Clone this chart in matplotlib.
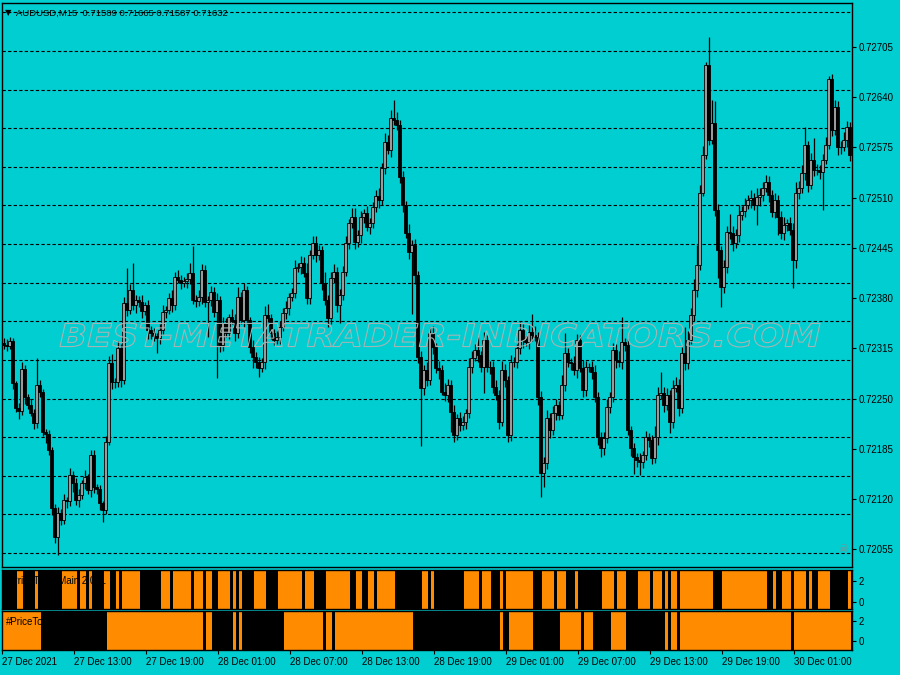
import numpy as np
import matplotlib
matplotlib.use('Agg')
import matplotlib.pyplot as plt
import matplotlib.transforms as mtransforms
from matplotlib.textpath import TextPath
from matplotlib.patches import PathPatch
from matplotlib.font_manager import FontProperties

BG = '#00CED1'
BULL = '#9a9a9a'
ORANGE = '#FF8C00'
FONT = ['Liberation Sans', 'DejaVu Sans']

symbol = 'AUDUSD,M15'
header_ohlc = '0.71589 0.71665 0.71587 0.71632'
first_open = 0.72322

# M15 closes
closes = [
    0.72319, 0.72318, 0.72325, 0.72270, 0.72238, 0.72234, 0.72288, 0.72252, 0.72242, 0.72231,
    0.72218, 0.72268, 0.72259, 0.72207, 0.72204, 0.72183, 0.72108, 0.72071, 0.72102, 0.72093,
    0.72119, 0.72117, 0.72151, 0.72141, 0.72119, 0.72125, 0.72141, 0.72148, 0.72132, 0.72177,
    0.72135, 0.72133, 0.72115, 0.72106, 0.72194, 0.72296, 0.72271, 0.72271, 0.72315, 0.72274,
    0.72374, 0.72365, 0.72391, 0.72371, 0.72378, 0.72375, 0.72363, 0.72371, 0.72339, 0.72335,
    0.72331, 0.72328, 0.72339, 0.72362, 0.72365, 0.72380, 0.72371, 0.72407, 0.72404, 0.72400,
    0.72402, 0.72405, 0.72413, 0.72378, 0.72376, 0.72382, 0.72417, 0.72375, 0.72378, 0.72388,
    0.72362,
    0.72378, 0.72319, 0.72348, 0.72335, 0.72356, 0.72352, 0.72335, 0.72382, 0.72352, 0.72391,
    0.72352, 0.72317, 0.72304, 0.72297, 0.72290, 0.72297, 0.72358, 0.72354, 0.72335, 0.72326,
    0.72330, 0.72343, 0.72361, 0.72367, 0.72382, 0.72387, 0.72419, 0.72420, 0.72426, 0.72413,
    0.72380, 0.72436, 0.72451, 0.72436, 0.72442, 0.72400, 0.72378, 0.72354, 0.72406, 0.72414,
    0.72371, 0.72384, 0.72414, 0.72451, 0.72477, 0.72485, 0.72453, 0.72462, 0.72485, 0.72490,
    0.72472, 0.72477, 0.72498, 0.72512, 0.72507, 0.72549, 0.72582, 0.72572, 0.72613, 0.72611,
    0.72604, 0.72537, 0.72501, 0.72464, 0.72440, 0.72449, 0.72410, 0.72304, 0.72264, 0.72287,
    0.72274, 0.72335, 0.72317, 0.72290, 0.72287, 0.72259, 0.72255, 0.72268, 0.72233, 0.72203,
    0.72225, 0.72216, 0.72220, 0.72231, 0.72291, 0.72303, 0.72313, 0.72306, 0.72291, 0.72326,
    0.72291, 0.72291, 0.72265, 0.72255, 0.72220, 0.72287, 0.72274, 0.72203, 0.72297, 0.72297,
    0.72315, 0.72339, 0.72326, 0.72323, 0.72336, 0.72332, 0.72330, 0.72252, 0.72154, 0.72167,
    0.72225, 0.72209, 0.72231, 0.72242, 0.72229, 0.72268, 0.72309, 0.72297, 0.72296, 0.72287,
    0.72326, 0.72290, 0.72261, 0.72291, 0.72291, 0.72284, 0.72252, 0.72200, 0.72186, 0.72199,
    0.72239, 0.72252, 0.72313, 0.72300, 0.72297, 0.72323, 0.72319, 0.72209, 0.72186, 0.72174,
    0.72170, 0.72168, 0.72177, 0.72200, 0.72196, 0.72173, 0.72200, 0.72255, 0.72257, 0.72242,
    0.72255, 0.72220, 0.72264, 0.72268, 0.72238, 0.72309, 0.72296, 0.72326, 0.72358, 0.72391,
    0.72423, 0.72516, 0.72565, 0.72682, 0.72585, 0.72607, 0.72494, 0.72442, 0.72395, 0.72420,
    0.72466, 0.72464, 0.72451, 0.72462, 0.72488, 0.72493, 0.72501, 0.72507, 0.72510, 0.72501,
    0.72511, 0.72514, 0.72523, 0.72530, 0.72514, 0.72492, 0.72507, 0.72485, 0.72464, 0.72475,
    0.72477, 0.72468, 0.72429, 0.72516, 0.72523, 0.72542, 0.72578, 0.72527, 0.72559, 0.72546,
    0.72546, 0.72543, 0.72559, 0.72578, 0.72664, 0.72598, 0.72628, 0.72575, 0.72576, 0.72585,
    0.72602, 0.72565,
]

# wick lengths beyond the body, in points (0.00001)
upper_wick = [
    6, 8, 5, 4, 3, 6, 9, 5, 4, 7, 5, 35, 6, 4, 3, 5, 4, 6, 8, 5,
    7, 4, 9, 5, 6, 8, 4, 10, 5, 7, 6, 4, 5, 3, 8, 9, 12, 6, 10, 5,
    8, 45, 7, 35, 6, 5, 9, 4, 7, 5, 6, 4, 8, 9, 5, 6, 11, 7, 10, 6,
    5, 8, 12, 34, 6, 9, 7, 6, 5, 8, 6, 9, 5, 8, 6, 4, 10, 7, 12, 6,
    8, 5, 4, 9, 6, 7, 5, 12, 14, 6, 5, 8, 7, 6, 9, 4, 6, 10, 5, 8,
    7, 12, 6, 9, 9, 7, 5, 14, 6, 8, 10, 6, 8, 7, 9, 5, 12, 12, 6, 8,
    5, 9, 7, 6, 8, 10, 6, 12, 9, 10, 23, 10, 6, 8, 5, 12, 6, 7, 5, 8,
    6, 10, 7, 9, 5, 8, 6, 11, 7, 6, 9, 5, 8, 7, 6, 12, 9, 7, 17, 6,
    10, 6, 8, 7, 9, 6, 12, 8, 5, 9, 7, 6, 10, 8, 5, 9, 23, 12, 6, 8,
    7, 10, 6, 9, 8, 5, 12, 26, 7, 6, 9, 8, 6, 10, 7, 5, 8, 9, 6, 7,
    8, 10, 6, 9, 7, 12, 32, 6, 8, 5, 7, 6, 9, 5, 8, 6, 7, 14, 10, 27,
    8, 9, 6, 10, 10, 7, 8, 34, 12, 9, 14, 26, 10, 12, 4, 36, 30, 28, 8, 6,
    9, 7, 23, 10, 8, 12, 6, 9, 7, 10, 6, 12, 8, 7, 10, 8, 6, 9, 7, 8,
    10, 6, 8, 9, 14, 8, 10, 23, 6, 9, 28, 8, 6, 7, 10, 4, 6, 9, 7, 8,
    10, 7, 6,
]
lower_wick = [
    5, 7, 4, 8, 6, 10, 5, 9, 6, 4, 8, 6, 7, 5, 12, 6, 9, 8, 23, 6,
    5, 8, 6, 12, 7, 9, 5, 8, 6, 10, 7, 6, 9, 16, 5, 4, 8, 7, 6, 9,
    5, 8, 6, 7, 10, 6, 9, 5, 12, 8, 6, 19, 7, 5, 8, 6, 9, 7, 5, 8,
    6, 9, 7, 5, 8, 6, 10, 7, 45, 8, 6, 85, 9, 7, 5, 8, 6, 10, 7, 5,
    9, 6, 8, 14, 7, 12, 6, 9, 5, 8, 7, 6, 10, 5, 8, 9, 6, 7, 5, 9,
    6, 8, 7, 5, 9, 6, 10, 7, 12, 8, 6, 9, 23, 7, 5, 8, 6, 9, 7, 10,
    8, 5, 9, 6, 7, 10, 6, 8, 5, 9, 7, 6, 8, 10, 6, 9, 80, 12, 8, 75,
    10, 8, 6, 9, 7, 12, 5, 8, 10, 26, 9, 6, 8, 7, 10, 6, 8, 5, 9, 7,
    34, 6, 9, 8, 7, 10, 6, 9, 9, 8, 6, 8, 7, 10, 5, 9, 8, 6, 10, 32,
    18, 8, 10, 6, 9, 7, 5, 8, 6, 9, 7, 10, 6, 9, 8, 6, 9, 7, 10, 12,
    9, 6, 8, 7, 10, 6, 9, 8, 6, 10, 21, 9, 17, 8, 6, 9, 8, 7, 10, 6,
    9, 7, 14, 8, 6, 10, 7, 9, 8, 6, 8, 10, 6, 4, 5, 7, 6, 8, 36, 27,
    9, 7, 8, 10, 6, 9, 7, 8, 6, 10, 7, 26, 12, 8, 6, 9, 7, 8, 23, 7,
    9, 8, 6, 36, 10, 8, 7, 9, 10, 6, 8, 7, 9, 49, 6, 5, 8, 7, 10, 8,
    6, 9, 7,
]

# indicator windows: runs of orange bars (start, end) in bar index
trend_orange = [(5, 7), (11, 12), (20, 25), (26, 28), (29, 30), (34, 36), (38, 39),
                (40, 46), (53, 56), (57, 63), (64, 67), (68, 70), (72, 76), (77, 78),
                (79, 80), (84, 88), (92, 100), (101, 104), (108, 116), (118, 120),
                (122, 124), (125, 131), (140, 142), (143, 144), (154, 159), (160, 163),
                (166, 167), (168, 177), (180, 184), (185, 188), (191, 192), (200, 204),
                (205, 208), (212, 216), (217, 220), (221, 222), (223, 225), (226, 237),
                (240, 255), (257, 258), (260, 263), (264, 268), (269, 270), (272, 276),
                (282, 283)]
pto_orange = [(0, 13), (35, 67), (68, 70), (77, 78), (79, 80), (94, 107), (108, 110),
              (111, 137), (166, 167), (169, 177), (186, 193), (194, 197), (203, 208),
              (221, 222), (223, 225), (226, 263), (264, 283)]

time_labels = ['27 Dec 2021', '27 Dec 13:00', '27 Dec 19:00', '28 Dec 01:00',
               '28 Dec 07:00', '28 Dec 13:00', '28 Dec 19:00', '29 Dec 01:00',
               '29 Dec 07:00', '29 Dec 13:00', '29 Dec 19:00', '30 Dec 01:00']
bars_per_label = 24

price_ticks = [0.72055, 0.72120, 0.72185, 0.72250, 0.72315, 0.72380,
               0.72445, 0.72510, 0.72575, 0.72640, 0.72705]
grid_levels = [0.7205, 0.7210, 0.7215, 0.7220, 0.7225, 0.7230, 0.7235, 0.7240,
               0.7245, 0.7250, 0.7255, 0.7260, 0.7265, 0.7270, 0.7275]

closes = np.array(closes)
opens = np.concatenate([[first_open], closes[:-1]])
highs = np.maximum(opens, closes) + np.array(upper_wick) * 1e-5
lows = np.minimum(opens, closes) - np.array(lower_wick) * 1e-5
n = len(closes)
idx = np.arange(n)

W, H = 900, 675
fig = plt.figure(figsize=(9, 6.75), dpi=100, facecolor=BG)


def px_axes(x0, y0, x1, y1):
    return fig.add_axes([x0 / W, 1 - y1 / H, (x1 - x0) / W, (y1 - y0) / H])


ax = px_axes(2, 3, 852, 567)
ax1 = px_axes(2, 570, 852, 609)
ax2 = px_axes(2, 611, 852, 650)
xlim = (-0.5, 282.83)

# main candle window
ax.set_facecolor(BG)
for lvl in grid_levels:
    ax.axhline(lvl, color='black', lw=0.8, ls=(0, (3, 2)), zorder=1)
ax.vlines(idx, lows, highs, color='black', lw=0.9, zorder=2)
up = closes >= opens
ax.bar(idx[up], (closes - opens)[up], bottom=opens[up], width=0.8,
       color=BULL, edgecolor='black', lw=0.6, zorder=3)
ax.bar(idx[~up], (closes - opens)[~up], bottom=opens[~up], width=0.8,
       color='black', edgecolor='black', lw=0.6, zorder=3)
ax.set_xlim(*xlim)
ax.set_ylim(0.72032, 0.72762)
ax.set_xticks([])
ax.yaxis.tick_right()
ax.set_yticks(price_ticks)
ax.set_yticklabels([f'{p:.5f}' for p in price_ticks])

# indicator windows
for a, runs, lo, hi in [(ax1, trend_orange, -0.7, 3.1), (ax2, pto_orange, -0.9, 3.0)]:
    a.set_facecolor('black')
    state = np.zeros(n, dtype=bool)
    for s, e in runs:
        state[s:e] = True
    a.bar(idx[state], hi - lo, bottom=lo, width=1.0, color=ORANGE, lw=0)
    a.set_xlim(*xlim)
    a.set_ylim(lo, hi)
    a.yaxis.tick_right()
    a.set_yticks([0, 2])
    a.set_yticklabels(['0', '2'])
    a.set_xticks([])

ax2.set_xticks(np.arange(len(time_labels)) * bars_per_label - 0.5)
ax2.set_xticklabels(time_labels)
for lbl in ax2.get_xticklabels():
    lbl.set_ha('left')

for a in (ax, ax1, ax2):
    for sp in a.spines.values():
        sp.set_color('black')
        sp.set_linewidth(1.0)
    a.tick_params(axis='both', length=3, width=0.8, color='black', pad=2,
                  labelsize=7, labelcolor='black')
    for lbl in a.get_xticklabels() + a.get_yticklabels():
        lbl.set_family(FONT)

ax1.text(0.005, 0.72, '#PriceTrendMain 2.001', transform=ax1.transAxes,
         fontsize=7, family=FONT, color='black', va='center')
ax2.text(0.005, 0.72, '#PriceTo', transform=ax2.transAxes,
         fontsize=7, family=FONT, color='black', va='center')

fig.text(5 / W, 1 - 13 / H, '\u25bc', fontsize=6, color='black', va='center',
         family='DejaVu Sans')
fig.text(16 / W, 1 - 13 / H, f'{symbol}  {header_ohlc}', fontsize=6.8,
         color='black', va='center', family=FONT)
fig.text(843 / W, 1 - 549 / H, '\u2620', fontsize=8, color='#8a8a8a',
         ha='center', va='center', family='DejaVu Sans')

# outlined watermark stretched across the chart
tp = TextPath((0, 0), 'BEST-METATRADER-INDICATORS.COM', size=20,
              prop=FontProperties(family='DejaVu Sans', style='oblique', weight='bold'))
bb = tp.get_extents()
fit = (mtransforms.Affine2D()
       .translate(-bb.x0, -bb.y0)
       .scale(760 / bb.width, 24 / bb.height)
       .translate(60, H - 347)
       .scale(1 / W, 1 / H))
wm = PathPatch(fit.transform_path(tp), facecolor='none', edgecolor='#a7b4b4',
               lw=0.8, transform=fig.transFigure, zorder=5)
fig.add_artist(wm)

fig.savefig('out.png', dpi=100, facecolor=BG)
